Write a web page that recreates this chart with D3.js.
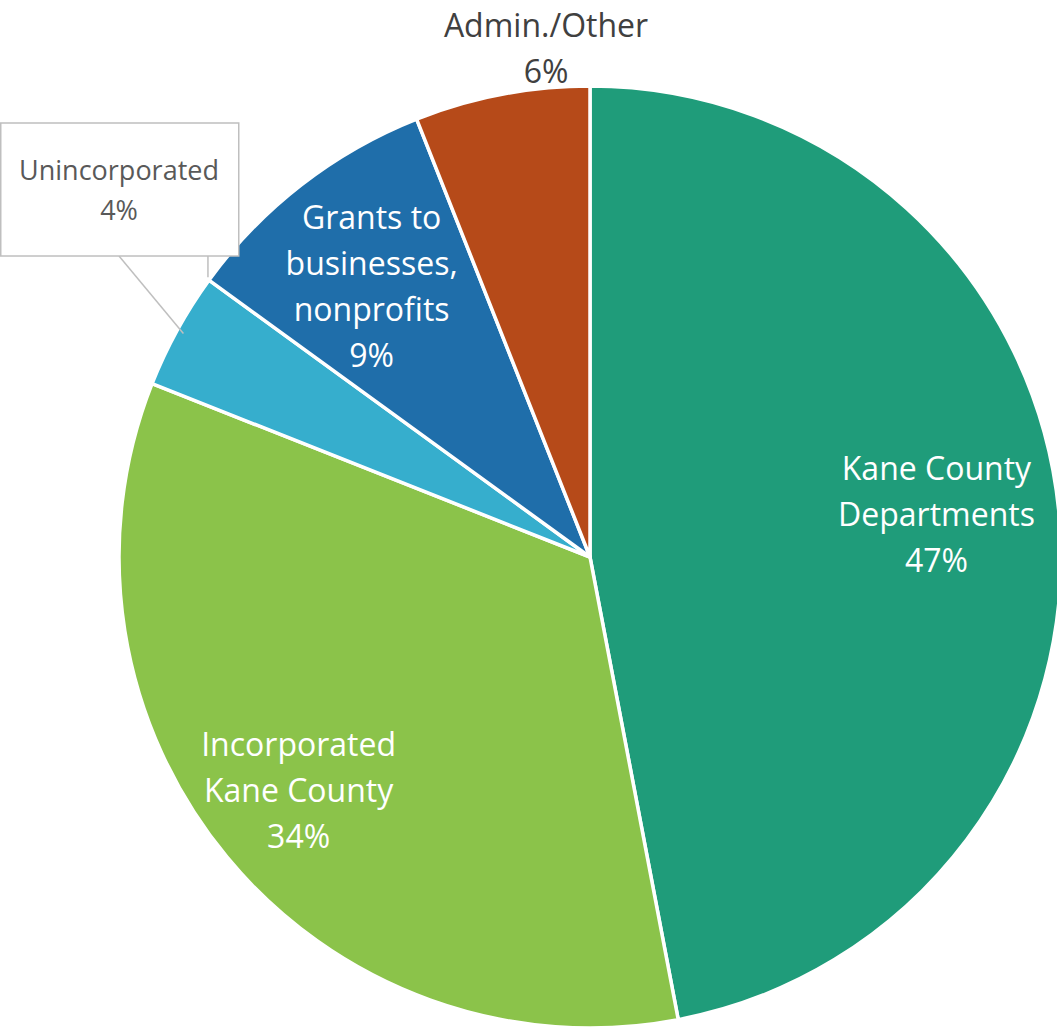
<!DOCTYPE html>
<html>
<head>
<meta charset="utf-8">
<script src="https://cdn.jsdelivr.net/npm/d3@7"></script>
<style>
  body { margin: 0; background: #fff; }
  svg { display: block; }
</style>
</head>
<body>
<div id="chart-area"></div>
<script>
// Data
var categories = ["Kane County Departments", "Incorporated Kane County", "Unincorporated", "Grants to businesses, nonprofits", "Admin./Other"];
var labelLines = [["Kane County", "Departments"], ["Incorporated", "Kane County"], ["Unincorporated"], ["Grants to", "businesses,", "nonprofits"], ["Admin./Other"]];
var shares = [47, 34, 4, 9, 6];
var colors = ["#1f9c7a", "#8bc34a", "#36aecd", "#1f6eaa", "#b64a19"];

var width = 1057, height = 1030;
var cx = 590, cy = 557, radius = 471;

var svg = d3.select("#chart-area")
	.append("svg")
	.attr("width", width)
	.attr("height", height);

var g = svg.append("g")
	.attr("transform", "translate(" + cx + "," + cy + ")");

var pie = d3.pie().sort(null).value(d => d.value);
var arc = d3.arc().innerRadius(0).outerRadius(radius);

var data = categories.map((c, i) => ({ name: c, lines: labelLines[i], value: shares[i], color: colors[i] }));
var arcs = pie(data);

g.selectAll("path")
	.data(arcs)
	.enter()
	.append("path")
		.attr("d", arc)
		.attr("fill", d => d.data.color)
		.attr("stroke", "#fff")
		.attr("stroke-width", 3.5)
		.attr("stroke-linejoin", "round");

var font = "'Open Sans', sans-serif";
var lineH = 46;

// point on a circle of radius r at angle a (clockwise from top)
function polar(a, r) {
	return [Math.sin(a) * r, -Math.cos(a) * r];
}
function mid(d) { return (d.startAngle + d.endAngle) / 2; }

function drawLabel(x, y, lines, size, fill, step) {
	var t = g.append("text")
		.attr("text-anchor", "middle")
		.attr("font-family", font)
		.attr("font-size", size + "px")
		.attr("fill", fill);
	var top = y - (lines.length - 1) * step / 2;
	lines.forEach((l, i) => {
		t.append("tspan").attr("x", x).attr("y", top + i * step).text(l);
	});
}

// inside labels: label radius + small nudge
var inner = { 0: [348, 0, 2], 1: [373, -4, 7], 3: [340, -10, 10] };
arcs.forEach((d, i) => {
	if (inner[i] === undefined) return;
	var p = polar(mid(d), inner[i][0]);
	drawLabel(p[0] + inner[i][1], p[1] + inner[i][2], d.data.lines.concat([d.data.value + "%"]), 32, "#fff", lineH);
});

// Admin./Other - outside end
var adm = arcs[4];
drawLabel(-44, -498 + 1, adm.data.lines.concat([adm.data.value + "%"]), 32, "#404040", lineH);

// Unincorporated - callout box
var un = arcs[2];
var box = { x: 0 - cx, y: 123 - cy, w: 238, h: 133 };
var tip = polar(mid(un), radius - 7);
g.append("line")
	.attr("x1", box.x + box.w / 2).attr("y1", box.y + box.h)
	.attr("x2", tip[0]).attr("y2", tip[1])
	.attr("stroke", "#bfbfbf").attr("stroke-width", 1.5);
var edge = polar(un.endAngle, radius);
g.append("line")
	.attr("x1", edge[0] - 1).attr("y1", box.y + box.h)
	.attr("x2", edge[0] - 1).attr("y2", edge[1] - 3)
	.attr("stroke", "#bfbfbf").attr("stroke-width", 1.5);
g.append("rect")
	.attr("x", box.x + 0.75).attr("y", box.y)
	.attr("width", box.w).attr("height", box.h)
	.attr("fill", "#fff")
	.attr("stroke", "#bfbfbf").attr("stroke-width", 1.5);
drawLabel(box.x + box.w / 2, box.y + 77, un.data.lines.concat([un.data.value + "%"]), 27, "#595959", 40);
</script>
</body>
</html>
